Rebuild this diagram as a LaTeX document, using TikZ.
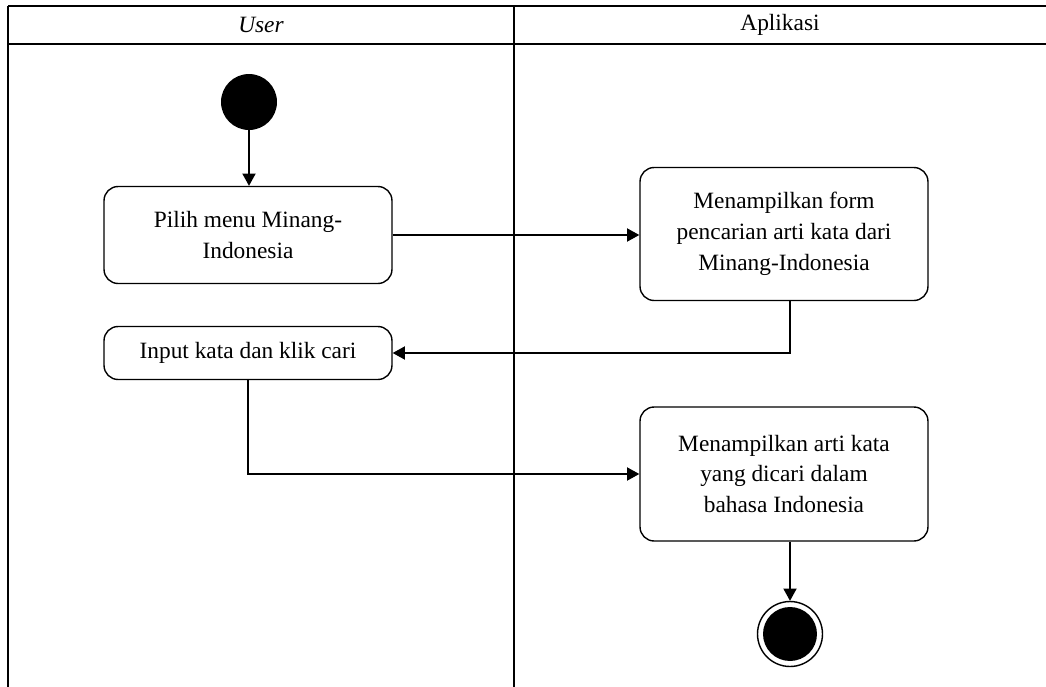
\documentclass[tikz,border=0pt]{standalone}
\usepackage{fontspec}
\setmainfont{Liberation Serif}
\usetikzlibrary{arrows.meta,positioning,calc}

\begin{document}
\begin{tikzpicture}[
  x=0.02cm,y=-0.02cm,
  every node/.style={font=\fontsize{13.3}{17.6}\selectfont},
  actbox/.style={draw,line width=0.8pt,rounded corners=8pt,minimum width=5.76cm,
                 align=center,inner sep=4pt},
  flow/.style={-{Triangle[length=7pt,width=7.5pt]},line width=0.8pt},
  lane/.style={line width=1.1pt},
]
  \useasboundingbox (0,0) rectangle (1046,687);

  % Swimlanes
  \draw[lane] (8,6) -- (1046,6);
  \draw[lane] (8,44) -- (1046,44);
  \draw[lane] (8,6) -- (8,687);
  \draw[lane] (514,6) -- (514,687);
  \node (user) at (261,25) {\textit{User}};
  \node (app) at (780,25) {Aplikasi};

  % Start
  \node[circle,fill=black,minimum size=1.12cm,inner sep=0pt] (start) at (249,102) {};

  % User actions
  \node[actbox,minimum height=1.94cm] (pilih) at (248,235) {Pilih menu Minang-\\Indonesia};
  \node[actbox,minimum height=1.06cm] (input) at (248,353) {Input kata dan klik cari};

  % Aplikasi actions
  \node[actbox,minimum height=2.66cm] (form) at (784,234)
    {Menampilkan form\\pencarian arti kata dari\\Minang-Indonesia};
  \node[actbox,minimum height=2.68cm] (hasil) at (784,474)
    {Menampilkan arti kata\\yang dicari dalam\\bahasa Indonesia};

  % End
  \node[circle,draw,line width=0.8pt,minimum size=1.3cm,inner sep=0pt] (end) at (790,634) {};
  \node[circle,fill=black,minimum size=1.08cm,inner sep=0pt] (endin) at (end.center) {};

  % Flows
  \draw[flow] (start) -- (pilih.north -| start);
  \draw[flow] (pilih.east) -- (form.west |- pilih.east);
  \draw[flow] (form.south -| end) |- (input.east);
  \draw[flow] (input.south) |- (hasil.west);
  \draw[flow] (hasil.south -| end) -- (end.north);
\end{tikzpicture}
\end{document}
